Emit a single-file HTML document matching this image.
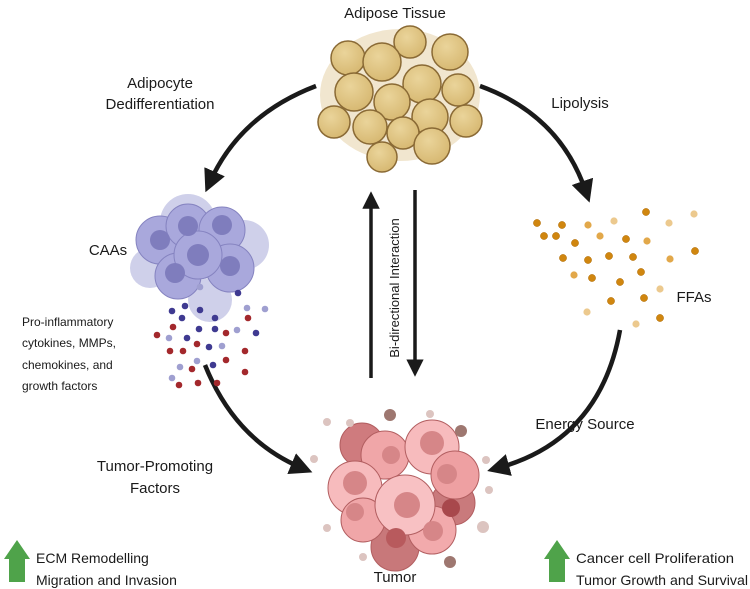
<!DOCTYPE html>
<html><head><meta charset="utf-8"><style>
html,body{margin:0;padding:0;background:#fff;width:750px;height:589px;overflow:hidden}
svg{display:block}
text{font-family:"Liberation Sans",sans-serif;fill:#1a1a1a}
</style></head><body>
<svg width="750" height="589" viewBox="0 0 750 589" xmlns="http://www.w3.org/2000/svg">
<defs>
<marker id="ah" markerWidth="5" markerHeight="5" refX="2.5" refY="2.5" orient="auto" markerUnits="strokeWidth">
<path d="M0,0 L5,2.5 L0,5 z" fill="#1a1a1a"/></marker>
<radialGradient id="fat" cx="0.4" cy="0.35" r="0.7"><stop offset="0" stop-color="#ead49a"/><stop offset="1" stop-color="#d6b770"/></radialGradient>
</defs>

<!-- labels -->
<text x="395" y="18" font-size="15" text-anchor="middle">Adipose Tissue</text>
<text x="160" y="88" font-size="15" text-anchor="middle">Adipocyte</text>
<text x="160" y="109" font-size="15" text-anchor="middle">Dedifferentiation</text>
<text x="580" y="108" font-size="15" text-anchor="middle">Lipolysis</text>
<text x="108" y="255" font-size="15" text-anchor="middle">CAAs</text>
<text x="22" y="326" font-size="12">Pro-inflammatory</text>
<text x="22" y="347" font-size="12">cytokines, MMPs,</text>
<text x="22" y="369" font-size="12">chemokines, and</text>
<text x="22" y="390" font-size="12">growth factors</text>
<text x="694" y="302" font-size="15" text-anchor="middle">FFAs</text>
<text x="585" y="429" font-size="15" text-anchor="middle">Energy Source</text>
<text x="155" y="471" font-size="15" text-anchor="middle">Tumor-Promoting</text>
<text x="155" y="493" font-size="15" text-anchor="middle">Factors</text>
<text x="395" y="582" font-size="15" text-anchor="middle">Tumor</text>
<text x="36" y="563" font-size="14">ECM Remodelling</text>
<text x="36" y="585" font-size="14">Migration and Invasion</text>
<text x="576" y="563" font-size="14" textLength="158" lengthAdjust="spacingAndGlyphs">Cancer cell Proliferation</text>
<text x="576" y="585" font-size="14" textLength="172" lengthAdjust="spacingAndGlyphs">Tumor Growth and Survival</text>
<text transform="translate(399,288) rotate(-90)" font-size="13" text-anchor="middle">Bi-directional Interaction</text>

<!-- green arrows -->
<path d="M9,582 V559 H4 L17,540 L30,559 H25 V582 Z" fill="#4fa34a"/>
<path d="M549,582 V559 H544 L557,540 L570,559 H565 V582 Z" fill="#4fa34a"/>

<!-- curved arrows -->
<g fill="none" stroke="#1a1a1a" stroke-width="4.5">
<path d="M316,86 Q240,115 210,182" marker-end="url(#ah)"/>
<path d="M480,86 Q560,115 586,192" marker-end="url(#ah)"/>
<path d="M205,365 Q235,440 302,468" marker-end="url(#ah)"/>
<path d="M620,330 Q600,440 498,468" marker-end="url(#ah)"/>
<path d="M371,378 V200" marker-end="url(#ah)" stroke-width="3.5"/>
<path d="M415,190 V368" marker-end="url(#ah)" stroke-width="3.5"/>
</g>

<!-- adipose tissue -->
<g>
<ellipse cx="400" cy="95" rx="80" ry="66" fill="#f1e6cf"/>
<g fill="url(#fat)" stroke="#8a6a35" stroke-width="1.5">
<circle cx="410" cy="42" r="16"/>
<circle cx="348" cy="58" r="17"/>
<circle cx="382" cy="62" r="19"/>
<circle cx="450" cy="52" r="18"/>
<circle cx="422" cy="84" r="19"/>
<circle cx="354" cy="92" r="19"/>
<circle cx="392" cy="102" r="18"/>
<circle cx="458" cy="90" r="16"/>
<circle cx="430" cy="117" r="18"/>
<circle cx="334" cy="122" r="16"/>
<circle cx="370" cy="127" r="17"/>
<circle cx="403" cy="133" r="16"/>
<circle cx="466" cy="121" r="16"/>
<circle cx="432" cy="146" r="18"/>
<circle cx="382" cy="157" r="15"/>
</g>
</g>

<!-- CAAs -->
<g>
<circle cx="188" cy="222" r="28" fill="#cfd0ea"/>
<circle cx="244" cy="245" r="25" fill="#cfd0ea"/>
<circle cx="150" cy="268" r="20" fill="#cfd0ea"/>
<circle cx="210" cy="300" r="22" fill="#cfd0ea"/>
<g fill="#a9a8dc" stroke="#8583c0" stroke-width="1">
<circle cx="160" cy="240" r="24"/>
<circle cx="188" cy="226" r="22"/>
<circle cx="222" cy="230" r="23"/>
<circle cx="178" cy="276" r="23"/>
<circle cx="230" cy="268" r="24"/>
<circle cx="198" cy="255" r="24"/>
</g>
<g fill="#7f7dbd">
<circle cx="160" cy="240" r="10"/><circle cx="188" cy="226" r="10"/><circle cx="222" cy="225" r="10"/>
<circle cx="175" cy="273" r="10"/><circle cx="230" cy="266" r="10"/><circle cx="198" cy="255" r="11"/>
</g>
<g fill="#3f3a91">
<circle cx="185" cy="306" r="3.3"/><circle cx="172" cy="311" r="3.3"/><circle cx="200" cy="310" r="3.3"/>
<circle cx="182" cy="318" r="3.3"/><circle cx="215" cy="318" r="3.3"/><circle cx="238" cy="293" r="3.3"/>
<circle cx="199" cy="329" r="3.3"/><circle cx="215" cy="329" r="3.3"/><circle cx="187" cy="338" r="3.3"/>
<circle cx="209" cy="347" r="3.3"/><circle cx="256" cy="333" r="3.3"/><circle cx="213" cy="365" r="3.3"/>
</g>
<g fill="#9f9fd0">
<circle cx="247" cy="308" r="3.3"/><circle cx="265" cy="309" r="3.3"/><circle cx="169" cy="338" r="3.3"/>
<circle cx="237" cy="330" r="3.3"/><circle cx="222" cy="346" r="3.3"/><circle cx="197" cy="361" r="3.3"/>
<circle cx="180" cy="367" r="3.3"/><circle cx="172" cy="378" r="3.3"/><circle cx="200" cy="287" r="3.3"/>
</g>
<g fill="#a3282c">
<circle cx="248" cy="318" r="3.3"/><circle cx="173" cy="327" r="3.3"/><circle cx="157" cy="335" r="3.3"/>
<circle cx="226" cy="333" r="3.3"/><circle cx="197" cy="344" r="3.3"/><circle cx="170" cy="351" r="3.3"/>
<circle cx="183" cy="351" r="3.3"/><circle cx="245" cy="351" r="3.3"/><circle cx="226" cy="360" r="3.3"/>
<circle cx="192" cy="369" r="3.3"/><circle cx="245" cy="372" r="3.3"/><circle cx="179" cy="385" r="3.3"/>
<circle cx="198" cy="383" r="3.3"/><circle cx="217" cy="383" r="3.3"/>
</g>
</g>

<!-- FFAs -->
<g fill="#d0860f" stroke="#b06d08" stroke-width="0.5">
<circle cx="537" cy="223" r="3.6"/><circle cx="562" cy="225" r="3.6"/><circle cx="646" cy="212" r="3.6"/>
<circle cx="544" cy="236" r="3.6"/><circle cx="556" cy="236" r="3.6"/><circle cx="575" cy="243" r="3.6"/>
<circle cx="626" cy="239" r="3.6"/><circle cx="563" cy="258" r="3.6"/><circle cx="588" cy="260" r="3.6"/>
<circle cx="609" cy="256" r="3.6"/><circle cx="633" cy="257" r="3.6"/><circle cx="695" cy="251" r="3.6"/>
<circle cx="592" cy="278" r="3.6"/><circle cx="620" cy="282" r="3.6"/><circle cx="641" cy="272" r="3.6"/>
<circle cx="611" cy="301" r="3.6"/><circle cx="644" cy="298" r="3.6"/><circle cx="660" cy="318" r="3.6"/>
</g>
<g fill="#e2a84a">
<circle cx="588" cy="225" r="3.6"/><circle cx="600" cy="236" r="3.6"/><circle cx="647" cy="241" r="3.6"/>
<circle cx="670" cy="259" r="3.6"/><circle cx="574" cy="275" r="3.6"/>
</g>
<g fill="#ecc98e">
<circle cx="614" cy="221" r="3.6"/><circle cx="669" cy="223" r="3.6"/><circle cx="694" cy="214" r="3.6"/>
<circle cx="660" cy="289" r="3.6"/><circle cx="587" cy="312" r="3.6"/><circle cx="636" cy="324" r="3.6"/>
</g>

<!-- Tumor -->
<g>
<g stroke="#b25e60" stroke-width="1">
<circle cx="362" cy="445" r="22" fill="#cf7b7e"/>
<circle cx="395" cy="547" r="24" fill="#c8787a"/>
<circle cx="453" cy="503" r="22" fill="#c97a7c"/>
<circle cx="385" cy="455" r="24" fill="#f0a6a8"/>
<circle cx="432" cy="447" r="27" fill="#f7bbbd"/>
<circle cx="455" cy="475" r="24" fill="#eea0a2"/>
<circle cx="355" cy="488" r="27" fill="#f7bbbd"/>
<circle cx="363" cy="520" r="22" fill="#f0a6a8"/>
<circle cx="432" cy="530" r="24" fill="#f2aaac"/>
<circle cx="405" cy="505" r="30" fill="#f8c1c3"/>
</g>
<g fill="#d68688">
<circle cx="391" cy="455" r="9"/><circle cx="432" cy="443" r="12"/><circle cx="447" cy="474" r="10"/>
<circle cx="355" cy="483" r="12"/><circle cx="355" cy="512" r="9"/><circle cx="433" cy="531" r="10"/>
<circle cx="407" cy="505" r="13"/>
</g>
<circle cx="451" cy="508" r="9" fill="#a8484c"/><circle cx="396" cy="538" r="10" fill="#b85a5d"/>
<g fill="#9e7770"><circle cx="390" cy="415" r="6"/><circle cx="461" cy="431" r="6"/><circle cx="450" cy="562" r="6"/></g>
<g fill="#dcc4c0"><circle cx="327" cy="422" r="4"/><circle cx="350" cy="423" r="4"/><circle cx="430" cy="414" r="4"/>
<circle cx="314" cy="459" r="4"/><circle cx="486" cy="460" r="4"/><circle cx="489" cy="490" r="4"/>
<circle cx="327" cy="528" r="4"/><circle cx="483" cy="527" r="6"/><circle cx="363" cy="557" r="4"/></g>
</g>
</svg>
</body></html>
